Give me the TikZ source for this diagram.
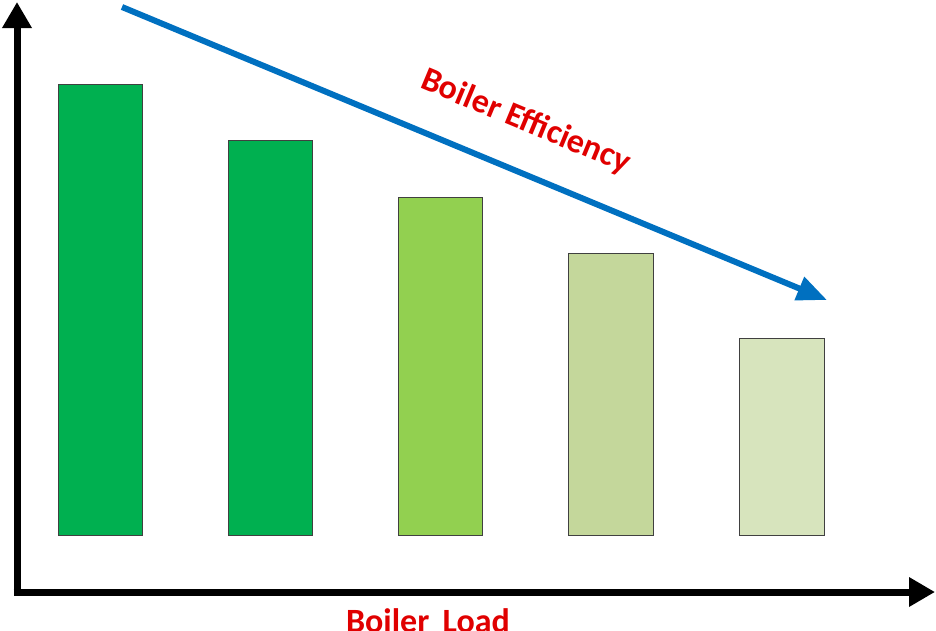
\documentclass[tikz,border=0pt]{standalone}
\usepackage{fontspec}
\setmainfont{Carlito}
\usetikzlibrary{arrows.meta}
\definecolor{g1}{HTML}{00B050}
\definecolor{g3}{HTML}{92D050}
\definecolor{g4}{HTML}{C4D79B}
\definecolor{g5}{HTML}{D7E4BD}
\definecolor{arrowblue}{HTML}{0070C0}
\definecolor{lblred}{HTML}{E00000}
\tikzset{bar/.style={draw=black!75,line width=0.6pt},
axis/.style={line width=7pt,-{Triangle[length=26pt,width=28pt]}},
lbl/.style={text=lblred,font=\bfseries\fontsize{34}{36}\selectfont,inner sep=0pt}}
\begin{document}
\begin{tikzpicture}[x=1pt,y=-1pt]
\useasboundingbox (0,0) rectangle (936,630);
\clip (0,0) rectangle (936,630);
\coordinate (ytop) at (17,2);
\coordinate (xend) at (935,592);
\draw[axis] (17,595.5) -- (ytop);
\draw[axis] (13.5,592) -- (xend);
\fill[g1,bar] (58,84) rectangle (142,535);
\fill[g1,bar] (228,140) rectangle (312,535);
\fill[g3,bar] (398,197) rectangle (482,535);
\fill[g4,bar] (568,253) rectangle (653,535);
\fill[g5,bar] (739,338) rectangle (824,535);
\coordinate (as) at (122,7);
\coordinate (ae) at (827,300);
\draw[arrowblue,line width=6pt,-{Triangle[length=30pt,width=24pt]}] (as) -- (ae);
\node[lbl,rotate=-22.6] (eff) at (526,122) {Boiler Efficiency};
\node[lbl,anchor=north] (load) at (428,608) {Boiler\, Load};
\end{tikzpicture}
\end{document}
